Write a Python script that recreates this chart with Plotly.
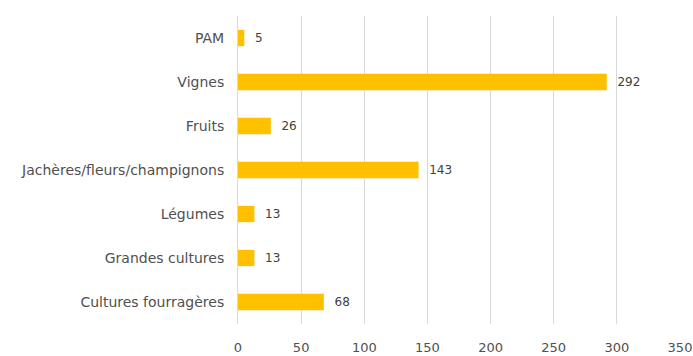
import plotly.graph_objects as go

categories = ["PAM", "Vignes", "Fruits", "Jachères/fleurs/champignons", "Légumes", "Grandes cultures", "Cultures fourragères"]
values = [5, 292, 26, 143, 13, 13, 68]
tick_vals = [0, 50, 100, 150, 200, 250, 300, 350]

fig = go.Figure(go.Bar(
    y=categories, x=values, orientation="h",
    marker=dict(color="#FFC000", line=dict(width=0)),
    text=["  " + str(v) for v in values], textposition="outside",
    textfont=dict(color="#404040", size=12, family="DejaVu Sans"),
    cliponaxis=False, width=0.37,
))
fig.update_layout(
    width=693, height=356,
    margin=dict(l=238, r=13, t=16, b=32),
    paper_bgcolor="white", plot_bgcolor="white",
    font=dict(family="DejaVu Sans, sans-serif", size=12, color="#505050"),
    showlegend=False,
)
fig.update_xaxes(range=[0, 350], tickvals=tick_vals, showgrid=True, gridcolor="#D9D9D9",
                 gridwidth=1, zeroline=False, showline=False, ticks="", automargin=False,
                 tickfont=dict(size=13, color="#505050"), ticklabelstandoff=14)
fig.update_yaxes(autorange="reversed", showline=True, linecolor="#D9D9D9", ticks="", automargin=False,
                 tickfont=dict(size=14, color="#505050"), ticklabelstandoff=10)
fig.write_html("out.html")
